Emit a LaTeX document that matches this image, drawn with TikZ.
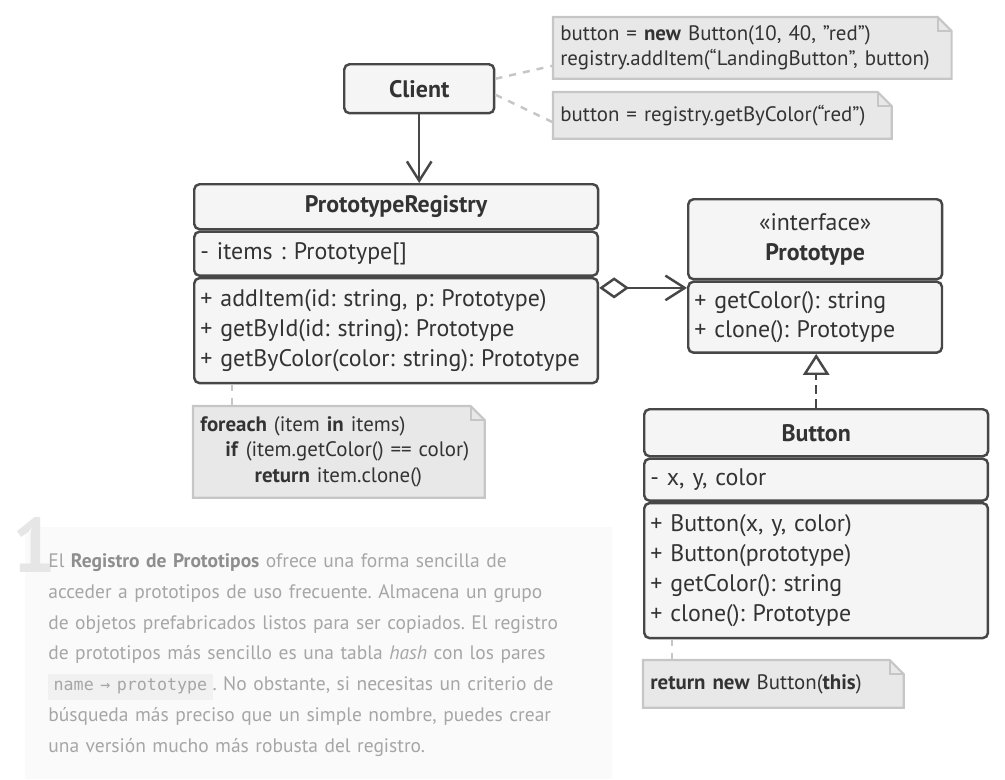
\documentclass[tikz,border=0pt]{standalone}
\usepackage{fontspec}
\setmainfont{PT Sans}
\newfontfamily\codefont{DejaVu Sans Mono}
\usetikzlibrary{positioning,arrows.meta,backgrounds}
\frenchspacing

\definecolor{linegray}{HTML}{474747}
\definecolor{boxfill}{HTML}{F5F5F5}
\definecolor{notefill}{HTML}{E8E8E8}
\definecolor{noteline}{HTML}{C6C6C6}
\definecolor{textgray}{HTML}{333333}
\definecolor{paragray}{HTML}{A6A6A6}
\definecolor{paradark}{HTML}{8E8E8E}
\definecolor{panelfill}{HTML}{FAFAFA}
\definecolor{codefill}{HTML}{F1F1F1}
\definecolor{bignum}{HTML}{E6E6E6}

\tikzset{
  umlbox/.style={draw=linegray, fill=boxfill, line width=1.4pt, rounded corners=3pt,
    inner sep=0pt, text=textgray, font=\fontsize{13.6}{17}\selectfont},
  titlebox/.style={umlbox, align=center, anchor=north west},
  listbox/.style={umlbox, align=left, text width=#1, inner xsep=3.5pt, anchor=north west},
  notebox/.style={align=left, text width=#1, inner xsep=4pt, inner ysep=0pt, anchor=north west,
    text=textgray, font=\fontsize{11.9}{14.7}\selectfont},
  link/.style={draw=linegray, line width=1.4pt},
  notelink/.style={draw=noteline, line width=1.4pt, dash pattern=on 4pt off 4pt},
  openhead/.style={-{Straight Barb[length=11pt,width=14pt]}},
}

\begin{document}
\begin{tikzpicture}[x=0.02cm, y=-0.02cm]
  \useasboundingbox (0,0) rectangle (1005,779);

  % text panel
  \fill[panelfill] (25,527) rectangle (612,779);
  \node[anchor=north west, inner sep=0pt, text=bignum, font=\fontsize{44}{44}\selectfont\bfseries] (num) at (12,517) {1};
  \node[anchor=north west, inner sep=0pt, text width=11.6cm, align=left, text=paragray,
        font=\fontsize{11.1}{17.6}\selectfont] (para) at (48,553)
    {El \textcolor{paradark}{\textbf{Registro de Prototipos}} ofrece una forma sencilla de\\
     acceder a prototipos de uso frecuente. Almacena un grupo\\
     de objetos prefabricados listos para ser copiados. El registro\\
     de prototipos más sencillo es una tabla \textit{hash} con los pares\\
     {\setlength\fboxsep{3pt}\colorbox{codefill}{\codefont\fontsize{9.5}{10}\selectfont name → prototype}}. No obstante, si necesitas un criterio de\\
     búsqueda más preciso que un simple nombre, puedes crear\\
     una versión mucho más robusta del registro.};

  % classes
  \node[titlebox, minimum width=3.0cm, minimum height=0.98cm] (client) at (343,63) {\textbf{Client}};

  \node[titlebox, minimum width=8.08cm, minimum height=0.9cm] (regHead) at (193,183) {\textbf{PrototypeRegistry}};
  \node[listbox=7.83cm, minimum height=0.88cm] (regAttr) at (regHead.south west) {- items : Prototype[]};
  \node[listbox=7.83cm, minimum height=2.1cm] (regOps) at (regAttr.south west)
    {+ addItem(id: string, p: Prototype)\\+ getById(id: string): Prototype\\+ getByColor(color: string): Prototype};

  \node[titlebox, minimum width=5.08cm, minimum height=1.6cm] (protoHead) at (687,198)
    {«interface»\\\textbf{Prototype}};
  \node[listbox=4.83cm, minimum height=1.42cm] (protoOps) at (protoHead.south west)
    {+ getColor(): string\\+ clone(): Prototype};

  \node[titlebox, minimum width=6.88cm, minimum height=0.94cm] (btnHead) at (643,408) {\textbf{Button}};
  \node[listbox=6.63cm, minimum height=0.84cm] (btnAttr) at (btnHead.south west) {- x, y, color};
  \node[listbox=6.63cm, minimum height=2.7cm] (btnOps) at (btnAttr.south west)
    {+ Button(x, y, color)\\+ Button(prototype)\\+ getColor(): string\\+ clone(): Prototype};

  % notes
  \node[notebox=7.68cm, minimum height=1.22cm] (noteNew) at (553,17)
    {button = \textbf{new} Button(10, 40, "red")\\registry.addItem(“LandingButton”, button)};
  \node[notebox=6.48cm, minimum height=0.92cm] (noteGet) at (553,92)
    {button = registry.getByColor(“red”)};
  \node[notebox=5.54cm, minimum height=1.82cm] (noteLoop) at (193,406)
    {\textbf{foreach} (item \textbf{in} items)\\
     \hspace*{1.2em}\textbf{if} (item.getColor() == color)\\
     \hspace*{2.6em}\textbf{return} item.clone()};
  \node[notebox=4.92cm, minimum height=0.94cm] (noteBtn) at (643,660)
    {\textbf{return new} Button(\textbf{this})};

  \begin{scope}[on background layer]
    \foreach \n in {noteNew,noteGet,noteLoop,noteBtn} {
      \draw[draw=noteline, fill=notefill, line width=1.2pt]
        (\n.north west) -- ([xshift=-0.28cm]\n.north east) -- ([yshift=-0.28cm]\n.north east)
        -- (\n.south east) -- (\n.south west) -- cycle;
      \draw[draw=noteline, line width=1.2pt]
        ([xshift=-0.28cm]\n.north east) -- ([xshift=-0.28cm,yshift=-0.28cm]\n.north east)
        -- ([yshift=-0.28cm]\n.north east);
    }
  \end{scope}

  % connectors
  \draw[link, openhead] (client.south) -- (client.south |- regHead.north);
  \coordinate (agg) at ([yshift=-0.22cm]regOps.north east);
  \draw[link, {Diamond[open,fill=white,length=17pt,width=12pt]}-{Straight Barb[length=11pt,width=14pt]}]
    (agg) -- (agg -| protoOps.west);
  \draw[link, dash pattern=on 5pt off 3pt, -{Triangle[open,fill=white,length=12pt,width=15pt]}]
    (btnHead.north) -- (btnHead.north |- protoOps.south);

  \draw[notelink] ([yshift=0.2cm]client.east) -- ([yshift=0.26cm]noteNew.south west);
  \draw[notelink] ([yshift=-0.12cm]client.east) -- ([yshift=-0.14cm]noteGet.west);
  \draw[notelink] ([xshift=0.78cm]regOps.south west) -- ([xshift=0.78cm]noteLoop.north west);
  \draw[notelink] ([xshift=0.58cm]btnOps.south west) -- ([xshift=0.58cm]noteBtn.north west);
\end{tikzpicture}
\end{document}
